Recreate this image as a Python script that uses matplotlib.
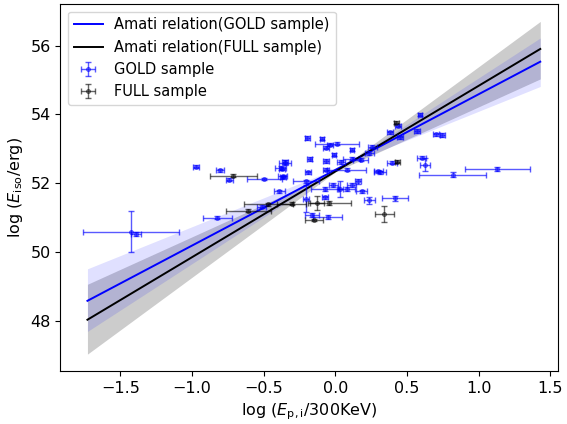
import numpy as np
import matplotlib
matplotlib.use("Agg")
import matplotlib.pyplot as plt

# fitted Amati relations (end points of the best-fit lines)
fit_x = [-1.73, 1.43]
gold_fit = [48.58, 55.53]
full_fit = [48.03, 55.90]
# band edges: steepest and shallowest allowed lines (bow-tie shaped band)
gold_steep = [47.69, 56.22]
gold_flat = [49.51, 54.81]
full_steep = [47.03, 56.70]
full_flat = [49.06, 55.03]

# GOLD sample: log(Ep,i/300keV), log(Eiso/erg) and their errors
gold_x = [-1.426, -1.391, -0.970, -0.805, -0.740, -0.495, -0.367, -0.351, -0.381, -0.391,
          -0.823, -0.514, -0.204, -0.195, -0.095, 0.010, -0.037, -0.065, 0.114, -0.007,
          -0.180, -0.066, 0.040, 0.114, 0.176, 0.258, 0.237, 0.382, 0.435, 0.591,
          0.569, 0.449, 0.702, 0.747, 0.393, 0.603, 0.626, 0.819, 1.130, 0.312,
          -0.353, -0.363, -0.204, 0.033, 0.160, 0.080, 0.114, -0.014, -0.072, 0.184,
          0.237, 0.417, -0.072, -0.165, -0.053, -0.067, -0.193, 0.080, 0.300, -0.374]
gold_y = [50.59, 50.53, 52.48, 52.37, 52.10, 52.12, 52.20, 52.60, 52.44, 51.76,
          51.00, 51.32, 52.05, 53.31, 53.29, 53.15, 53.12, 53.03, 52.97, 52.83,
          52.70, 52.65, 52.61, 52.71, 52.68, 53.06, 52.87, 53.48, 53.67, 53.99,
          53.52, 53.33, 53.42, 53.40, 52.60, 52.74, 52.54, 52.25, 52.41, 52.31,
          52.61, 52.17, 51.55, 51.83, 52.05, 51.83, 51.95, 51.95, 51.83, 51.76,
          51.50, 51.56, 51.59, 51.07, 51.02, 52.39, 52.31, 52.39, 52.34, 52.42]
gold_xerr = [0.337, 0.035, 0.02, 0.03, 0.025, 0.123, 0.03, 0.045, 0.04, 0.04,
             0.103, 0.03, 0.09, 0.015, 0.015, 0.153, 0.02, 0.02, 0.015, 0.015,
             0.02, 0.02, 0.025, 0.06, 0.05, 0.03, 0.03, 0.02, 0.02, 0.015,
             0.02, 0.02, 0.02, 0.02, 0.035, 0.03, 0.035, 0.233, 0.225, 0.04,
             0.02, 0.02, 0.02, 0.02, 0.02, 0.06, 0.03, 0.03, 0.10, 0.04,
             0.04, 0.093, 0.02, 0.05, 0.10, 0.02, 0.02, 0.135, 0.03, 0.02]
gold_yerr = [0.59, 0.06, 0.05, 0.05, 0.05, 0.04, 0.05, 0.07, 0.05, 0.04,
             0.04, 0.04, 0.05, 0.05, 0.05, 0.05, 0.05, 0.05, 0.05, 0.05,
             0.05, 0.05, 0.05, 0.05, 0.05, 0.05, 0.05, 0.05, 0.05, 0.04,
             0.05, 0.05, 0.05, 0.05, 0.05, 0.05, 0.18, 0.07, 0.07, 0.05,
             0.05, 0.05, 0.40, 0.22, 0.08, 0.05, 0.05, 0.05, 0.05, 0.05,
             0.10, 0.07, 0.05, 0.05, 0.05, 0.05, 0.05, 0.05, 0.05, 0.05]

# FULL sample (extra bursts)
full_x = [-0.712, -0.607, -0.467, -0.304, -0.130, -0.042, -0.149, 0.342, 0.426, 0.433]
full_y = [52.22, 51.20, 51.38, 51.40, 51.42, 51.42, 50.93, 51.11, 53.76, 52.62]
full_xerr = [0.165, 0.157, 0.17, 0.10, 0.05, 0.15, 0.06, 0.067, 0.015, 0.015]
full_yerr = [0.04, 0.04, 0.04, 0.04, 0.20, 0.05, 0.04, 0.23, 0.05, 0.04]

fig = plt.figure(figsize=(5.67, 4.24), dpi=100)
ax = fig.add_axes([0.1067, 0.125, 0.878, 0.865])

# crossed quadrilateral -> bow-tie shaped confidence band
ax.fill_between(fit_x, full_steep, full_flat, color='gray', alpha=0.4, lw=0)
ax.fill_between(fit_x, gold_steep, gold_flat, color='blue', alpha=0.12, lw=0)
ax.plot(fit_x, gold_fit, color='blue', lw=1.4, label='Amati relation(GOLD sample)')
ax.plot(fit_x, full_fit, color='black', lw=1.4, label='Amati relation(FULL sample)')

ax.errorbar(gold_x, gold_y, xerr=gold_xerr, yerr=gold_yerr, fmt='o', ms=2.5,
            mfc='none', color='blue', ecolor='blue', elinewidth=1, capsize=2,
            alpha=0.65, label='GOLD sample')
ax.errorbar(full_x, full_y, xerr=full_xerr, yerr=full_yerr, fmt='o', ms=2.5,
            mfc='none', color='black', ecolor='black', elinewidth=1, capsize=2,
            alpha=0.6, label='FULL sample')

ax.set_xlim(-1.918, 1.556)
ax.set_ylim(46.54, 57.2)
ax.set_xticks([-1.5, -1.0, -0.5, 0.0, 0.5, 1.0, 1.5])
ax.set_yticks([48, 50, 52, 54, 56])
ax.tick_params(labelsize=11.5)
ax.set_xlabel(r'$\log\,(E_{\rm p,i}/{\rm 300KeV})$', fontsize=11.5)
ax.set_ylabel(r'$\log\,(E_{\rm iso}/{\rm erg})$', fontsize=11.5)
ax.legend(loc='upper left', fontsize=10.5)

fig.savefig('out.png', dpi=100)
